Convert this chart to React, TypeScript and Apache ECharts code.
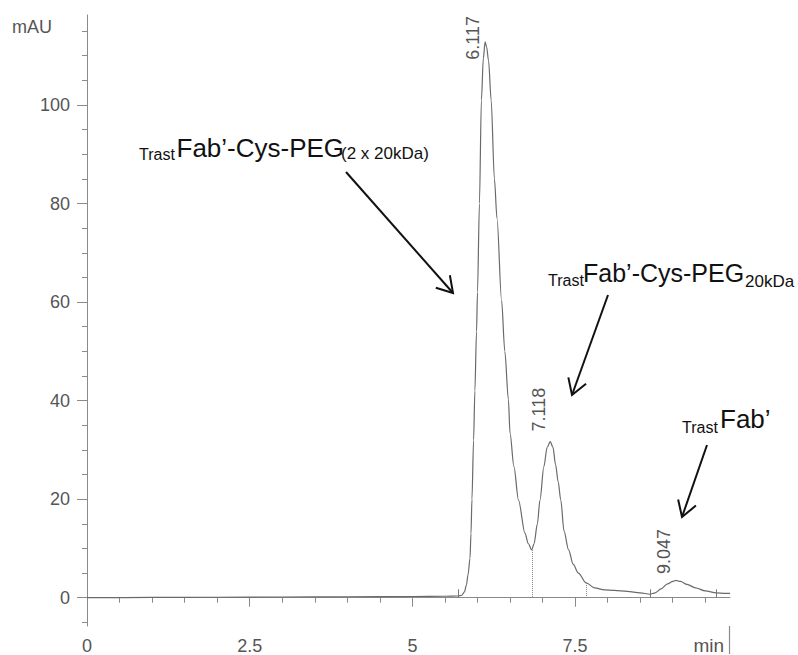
import React, { useEffect, useRef } from 'react';
import * as echarts from 'echarts';

// ---- data ----
const retentionTime = [0, 1, 2, 3, 4, 5, 5.5, 5.7, 5.76, 5.8, 5.83, 5.855, 5.885, 5.9, 5.915, 5.94, 5.96, 5.985, 6.0, 6.03, 6.06, 6.09, 6.117, 6.14, 6.17, 6.21, 6.26, 6.3, 6.37, 6.42, 6.475, 6.5, 6.56, 6.63, 6.73, 6.78, 6.834, 6.87, 6.92, 6.96, 7.02, 7.07, 7.118, 7.16, 7.2, 7.24, 7.28, 7.33, 7.4, 7.47, 7.55, 7.67, 7.8, 7.95, 8.1, 8.3, 8.5, 8.65, 8.73, 8.82, 8.92, 9.0, 9.047, 9.12, 9.22, 9.35, 9.5, 9.67, 9.8, 9.88];
const absorbance = [0, 0.05, 0.1, 0.15, 0.2, 0.25, 0.3, 0.35, 0.5, 1.2, 2.6, 4.7, 8, 13, 20, 32, 42, 54, 62, 80, 101, 109.5, 112.8, 111.8, 109, 101, 85, 77, 60.4, 50, 40.2, 33.4, 26.6, 19.8, 13.1, 11, 9.7, 11, 15, 19.8, 26.6, 30.5, 31.7, 30.5, 27, 23.5, 19.8, 13.5, 9.7, 6.8, 5, 3, 2.0, 1.6, 1.5, 1.3, 1.0, 0.7, 1.0, 1.8, 2.8, 3.3, 3.5, 3.3, 2.7, 2.0, 1.4, 1.0, 0.9, 0.9];

const peakTimes = [6.117, 7.118, 9.047];
const peakHeights = [112.8, 31.7, 3.5];

const dropLineTimes = [6.834, 7.67];
const integrationMarkTimes = [5.7, 8.65, 9.67];
const baselineSegments = [[5.7, 7.67], [8.65, 9.67]];

const xMajorTicks = [0, 2.5, 5, 7.5];
const xMinorTicks = [0.5, 1, 1.5, 2, 3, 3.5, 4, 4.5, 5.5, 6, 6.5, 7, 8, 8.5, 9, 9.5];
const yMajorTicks = [0, 20, 40, 60, 80, 100];
const yMinorTicks = [-5, 5, 10, 15, 25, 30, 35, 45, 50, 55, 65, 70, 75, 85, 90, 95, 105, 110, 115];

const X_MIN = 0;
const X_MAX = 9.88;
const Y_MIN = -5.74;
const Y_MAX = 118.27;

// peak label offsets (pixels, relative to apex)
const peakLabelOffsets = [[-12, -4], [-11.5, -32], [-12, -29]];

const FONT = 'Liberation Sans, Arial, Helvetica, sans-serif';
const AXIS_COLOR = '#8a8a8a';
const LABEL_COLOR = '#555';
const TRACE_COLOR = '#6a6a6a';

function valueAt(t: number): number {
  for (let i = 1; i < retentionTime.length; i++) {
    if (t <= retentionTime[i]) {
      const t0 = retentionTime[i - 1], t1 = retentionTime[i];
      const f = (t - t0) / (t1 - t0);
      return absorbance[i - 1] + f * (absorbance[i] - absorbance[i - 1]);
    }
  }
  return absorbance[absorbance.length - 1];
}

function textAt(x: number, baseline: number, text: string, size: number, color = '#111', align = 'left') {
  return {
    type: 'text',
    x,
    y: baseline - 0.35 * size,
    silent: true,
    style: {
      text,
      fill: color,
      font: `${size}px ${FONT}`,
      align,
      verticalAlign: 'middle',
    },
  };
}

function arrow(x1: number, y1: number, x2: number, y2: number) {
  const ang = Math.atan2(y2 - y1, x2 - x1);
  const len = 18;
  const spread = 0.55;
  const a1 = ang + Math.PI - spread;
  const a2 = ang + Math.PI + spread;
  return [
    {
      type: 'line',
      silent: true,
      shape: { x1, y1, x2, y2 },
      style: { stroke: '#111', lineWidth: 2 },
    },
    {
      type: 'polyline',
      silent: true,
      shape: {
        points: [
          [x2 + len * Math.cos(a1), y2 + len * Math.sin(a1)],
          [x2, y2],
          [x2 + len * Math.cos(a2), y2 + len * Math.sin(a2)],
        ],
      },
      style: { stroke: '#111', lineWidth: 2, fill: 'none' },
    },
  ];
}

export default function App() {
  const ref = useRef<HTMLDivElement>(null);

  useEffect(() => {
    if (!ref.current) return;
    const chart = echarts.init(ref.current, null, { renderer: 'svg' });

    const traceData = retentionTime.map((t, i) => [t, absorbance[i]]);

    const markLineData: any[] = [];
    dropLineTimes.forEach((t) => {
      markLineData.push([
        { coord: [t, valueAt(t)], lineStyle: { type: 'dotted', color: '#888', width: 1 } },
        { coord: [t, 0] },
      ]);
    });
    baselineSegments.forEach(([a, b]) => {
      markLineData.push([
        { coord: [a, 0], lineStyle: { type: 'dotted', color: '#888', width: 1 } },
        { coord: [b, 0] },
      ]);
    });
    integrationMarkTimes.forEach((t) => {
      markLineData.push([
        { coord: [t, 0], lineStyle: { type: 'solid', color: '#777', width: 1 } },
        { coord: [t, 1.7] },
      ]);
    });

    const axisLabelStyle = { fontSize: 18, color: LABEL_COLOR, fontFamily: FONT };

    const option: any = {
      animation: false,
      backgroundColor: '#fff',
      grid: { left: 87, right: 68, top: 15, bottom: 29, containLabel: false },
      xAxis: [
        {
          type: 'value',
          min: X_MIN,
          max: X_MAX,
          position: 'bottom',
          axisLine: { show: true, lineStyle: { color: AXIS_COLOR, width: 1 } },
          axisTick: { show: true, customValues: xMajorTicks, length: 9, lineStyle: { color: AXIS_COLOR } },
          axisLabel: { show: true, customValues: xMajorTicks, margin: 11, formatter: (v: number) => String(v), ...axisLabelStyle },
          splitLine: { show: false },
        },
        {
          type: 'value',
          min: X_MIN,
          max: X_MAX,
          position: 'bottom',
          axisLine: { show: false },
          axisTick: { show: true, customValues: xMinorTicks, length: 5, lineStyle: { color: AXIS_COLOR } },
          axisLabel: { show: false },
          splitLine: { show: false },
        },
      ],
      yAxis: [
        {
          type: 'value',
          min: Y_MIN,
          max: Y_MAX,
          position: 'left',
          axisLine: { show: true, lineStyle: { color: AXIS_COLOR, width: 1 } },
          axisTick: { show: true, customValues: yMajorTicks, length: 10, lineStyle: { color: AXIS_COLOR } },
          axisLabel: { show: true, customValues: yMajorTicks, margin: 17, formatter: (v: number) => String(v), ...axisLabelStyle },
          splitLine: { show: false },
        },
        {
          type: 'value',
          min: Y_MIN,
          max: Y_MAX,
          position: 'left',
          axisLine: { show: false },
          axisTick: { show: true, customValues: yMinorTicks, length: 5, lineStyle: { color: AXIS_COLOR } },
          axisLabel: { show: false },
          splitLine: { show: false },
        },
      ],
      series: [
        {
          type: 'line',
          xAxisIndex: 0,
          yAxisIndex: 0,
          data: traceData,
          showSymbol: false,
          symbol: 'none',
          smooth: 0.3,
          smoothMonotone: 'x',
          lineStyle: { color: TRACE_COLOR, width: 1.2 },
          silent: true,
          markLine: {
            silent: true,
            symbol: ['none', 'none'],
            label: { show: false },
            data: markLineData,
          },
          z: 3,
        },
      ],
    };

    chart.setOption(option);

    const graphics: any[] = [];
    // axis titles
    graphics.push(textAt(12, 33, 'mAU', 18, LABEL_COLOR));
    graphics.push(textAt(724, 652, 'min', 19, LABEL_COLOR, 'right'));
    graphics.push({
      type: 'line',
      silent: true,
      shape: { x1: 729.5, y1: 626, x2: 729.5, y2: 654 },
      style: { stroke: AXIS_COLOR, lineWidth: 1.2 },
    });

    // peak retention-time labels
    peakTimes.forEach((t, i) => {
      const p = chart.convertToPixel({ xAxisIndex: 0, yAxisIndex: 0 }, [t, peakHeights[i]]) as number[];
      graphics.push({
        type: 'text',
        x: p[0] + peakLabelOffsets[i][0],
        y: p[1] + peakLabelOffsets[i][1],
        rotation: Math.PI / 2,
        silent: true,
        style: {
          text: t.toFixed(3),
          fill: LABEL_COLOR,
          font: `18px ${FONT}`,
          align: 'center',
          verticalAlign: 'middle',
        },
      });
    });

    // annotations
    graphics.push(textAt(139, 160.5, 'Trast', 16));
    graphics.push(textAt(176.5, 157, 'Fab’-Cys-PEG', 26));
    graphics.push(textAt(341, 159.5, '(2 x 20kDa)', 17));
    graphics.push(...arrow(346, 172, 453, 293));

    graphics.push(textAt(548, 286, 'Trast', 16));
    graphics.push(textAt(583, 282, 'Fab’-Cys-PEG', 25));
    graphics.push(textAt(745, 287, '20kDa', 17));
    graphics.push(...arrow(608, 295, 572, 395));

    graphics.push(textAt(682, 433, 'Trast', 16));
    graphics.push(textAt(720, 428, 'Fab’', 26));
    graphics.push(...arrow(707, 445, 682, 517));

    chart.setOption({ graphic: { elements: graphics } });

    return () => {
      chart.dispose();
    };
  }, []);

  return (
    <div
      ref={ref}
      style={{ position: 'absolute', left: 0, top: 0, width: 798, height: 655, background: '#fff' }}
    />
  );
}
